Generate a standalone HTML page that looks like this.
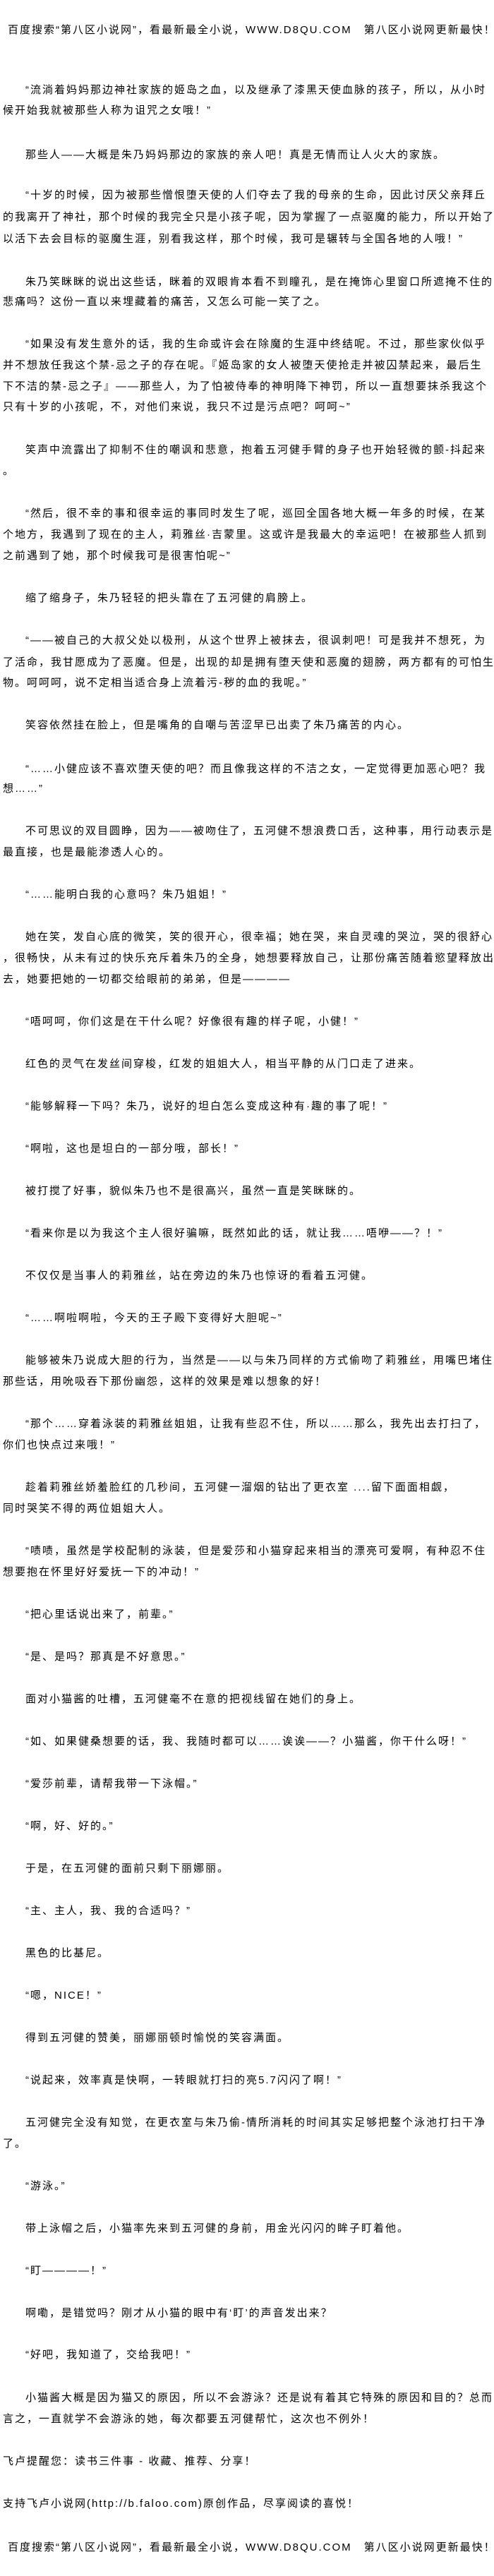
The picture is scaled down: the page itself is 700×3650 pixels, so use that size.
<!DOCTYPE html>
<html><head><meta charset="utf-8">
<style>
html,body{margin:0;padding:0;background:#fff;}
body{width:700px;height:3650px;position:relative;overflow:hidden;
font-family:"Liberation Sans","Noto Sans CJK SC","WenQuanYi Zen Hei",sans-serif;font-size:15px;letter-spacing:2px;color:#000;}
.l{position:absolute;white-space:nowrap;line-height:20px;height:20px;}
.i{left:36px}.c{left:4px}.h{left:11px}
</style></head><body>
<div class="l h" style="top:33px">百度搜索“第八区小说网”，看最新最全小说，WWW.D8QU.COM　第八区小说网更新最快！</div>
<div class="l i" style="top:118px">“流淌着妈妈那边神社家族的姬岛之血，以及继承了漆黑天使血脉的孩子，所以，从小时</div>
<div class="l c" style="top:147px">候开始我就被那些人称为诅咒之女哦！”</div>
<div class="l i" style="top:210px">那些人——大概是朱乃妈妈那边的家族的亲人吧！真是无情而让人火大的家族。</div>
<div class="l i" style="top:267px">“十岁的时候，因为被那些憎恨堕天使的人们夺去了我的母亲的生命，因此讨厌父亲拜丘</div>
<div class="l c" style="top:298px">的我离开了神社，那个时候的我完全只是小孩子呢，因为掌握了一点驱魔的能力，所以开始了</div>
<div class="l c" style="top:329px">以活下去会目标的驱魔生涯，别看我这样，那个时候，我可是辗转与全国各地的人哦！”</div>
<div class="l i" style="top:390px">朱乃笑眯眯的说出这些话，眯着的双眼肯本看不到瞳孔，是在掩饰心里窗口所遮掩不住的</div>
<div class="l c" style="top:418px">悲痛吗？这份一直以来埋藏着的痛苦，又怎么可能一笑了之。</div>
<div class="l i" style="top:478px">“如果没有发生意外的话，我的生命或许会在除魔的生涯中终结呢。不过，那些家伙似乎</div>
<div class="l c" style="top:508px">并不想放任我这个禁-忌之子的存在呢。『姬岛家的女人被堕天使抢走并被囚禁起来，最后生</div>
<div class="l c" style="top:538px">下不洁的禁-忌之子』——那些人，为了怕被侍奉的神明降下神罚，所以一直想要抹杀我这个</div>
<div class="l c" style="top:567px">只有十岁的小孩呢，不，对他们来说，我只不过是污点吧？呵呵~”</div>
<div class="l i" style="top:628px">笑声中流露出了抑制不住的嘲讽和悲意，抱着五河健手臂的身子也开始轻微的颤-抖起来</div>
<div class="l c" style="top:658px">。</div>
<div class="l i" style="top:718px">“然后，很不幸的事和很幸运的事同时发生了呢，巡回全国各地大概一年多的时候，在某</div>
<div class="l c" style="top:748px">个地方，我遇到了现在的主人，莉雅丝·吉蒙里。这或许是我最大的幸运吧！在被那些人抓到</div>
<div class="l c" style="top:778px">之前遇到了她，那个时候我可是很害怕呢~”</div>
<div class="l i" style="top:838px">缩了缩身子，朱乃轻轻的把头靠在了五河健的肩膀上。</div>
<div class="l i" style="top:898px">“——被自己的大叔父处以极刑，从这个世界上被抹去，很讽刺吧！可是我并不想死，为</div>
<div class="l c" style="top:929px">了活命，我甘愿成为了恶魔。但是，出现的却是拥有堕天使和恶魔的翅膀，两方都有的可怕生</div>
<div class="l c" style="top:958px">物。呵呵呵，说不定相当适合身上流着污-秽的血的我呢。”</div>
<div class="l i" style="top:1018px">笑容依然挂在脸上，但是嘴角的自嘲与苦涩早已出卖了朱乃痛苦的内心。</div>
<div class="l i" style="top:1080px">“……小健应该不喜欢堕天使的吧？而且像我这样的不洁之女，一定觉得更加恶心吧？我</div>
<div class="l c" style="top:1108px">想……”</div>
<div class="l i" style="top:1168px">不可思议的双目圆睁，因为——被吻住了，五河健不想浪费口舌，这种事，用行动表示是</div>
<div class="l c" style="top:1198px">最直接，也是最能渗透人心的。</div>
<div class="l i" style="top:1258px">“……能明白我的心意吗？朱乃姐姐！”</div>
<div class="l i" style="top:1318px">她在笑，发自心底的微笑，笑的很开心，很幸福；她在哭，来自灵魂的哭泣，哭的很舒心</div>
<div class="l c" style="top:1348px">，很畅快，从未有过的快乐充斥着朱乃的全身，她想要释放自己，让那份痛苦随着慾望释放出</div>
<div class="l c" style="top:1378px">去，她要把她的一切都交给眼前的弟弟，但是————</div>
<div class="l i" style="top:1438px">“唔呵呵，你们这是在干什么呢？好像很有趣的样子呢，小健！”</div>
<div class="l i" style="top:1498px">红色的灵气在发丝间穿梭，红发的姐姐大人，相当平静的从门口走了进来。</div>
<div class="l i" style="top:1558px">“能够解释一下吗？朱乃，说好的坦白怎么变成这种有·趣的事了呢！”</div>
<div class="l i" style="top:1618px">“啊啦，这也是坦白的一部分哦，部长！”</div>
<div class="l i" style="top:1678px">被打搅了好事，貌似朱乃也不是很高兴，虽然一直是笑眯眯的。</div>
<div class="l i" style="top:1738px">“看来你是以为我这个主人很好骗嘛，既然如此的话，就让我……唔咿——？！”</div>
<div class="l i" style="top:1798px">不仅仅是当事人的莉雅丝，站在旁边的朱乃也惊讶的看着五河健。</div>
<div class="l i" style="top:1858px">“……啊啦啊啦，今天的王子殿下变得好大胆呢~”</div>
<div class="l i" style="top:1918px">能够被朱乃说成大胆的行为，当然是——以与朱乃同样的方式偷吻了莉雅丝，用嘴巴堵住</div>
<div class="l c" style="top:1948px">那些话，用吮吸吞下那份幽怨，这样的效果是难以想象的好！</div>
<div class="l i" style="top:2008px">“那个……穿着泳装的莉雅丝姐姐，让我有些忍不住，所以……那么，我先出去打扫了，</div>
<div class="l c" style="top:2038px">你们也快点过来哦！”</div>
<div class="l i" style="top:2098px">趁着莉雅丝娇羞脸红的几秒间，五河健一溜烟的钻出了更衣室 ....留下面面相觑，</div>
<div class="l c" style="top:2128px">同时哭笑不得的两位姐姐大人。</div>
<div class="l i" style="top:2188px">“啧啧，虽然是学校配制的泳装，但是爱莎和小猫穿起来相当的漂亮可爱啊，有种忍不住</div>
<div class="l c" style="top:2218px">想要抱在怀里好好爱抚一下的冲动！”</div>
<div class="l i" style="top:2278px">“把心里话说出来了，前辈。”</div>
<div class="l i" style="top:2338px">“是、是吗？那真是不好意思。”</div>
<div class="l i" style="top:2398px">面对小猫酱的吐槽，五河健毫不在意的把视线留在她们的身上。</div>
<div class="l i" style="top:2458px">“如、如果健桑想要的话，我、我随时都可以……诶诶——？小猫酱，你干什么呀！”</div>
<div class="l i" style="top:2518px">“爱莎前辈，请帮我带一下泳帽。”</div>
<div class="l i" style="top:2578px">“啊，好、好的。”</div>
<div class="l i" style="top:2638px">于是，在五河健的面前只剩下丽娜丽。</div>
<div class="l i" style="top:2698px">“主、主人，我、我的合适吗？”</div>
<div class="l i" style="top:2758px">黑色的比基尼。</div>
<div class="l i" style="top:2818px">“嗯，NICE！”</div>
<div class="l i" style="top:2878px">得到五河健的赞美，丽娜丽顿时愉悦的笑容满面。</div>
<div class="l i" style="top:2938px">“说起来，效率真是快啊，一转眼就打扫的亮5.7闪闪了啊！”</div>
<div class="l i" style="top:2998px">五河健完全没有知觉，在更衣室与朱乃偷-情所消耗的时间其实足够把整个泳池打扫干净</div>
<div class="l c" style="top:3028px">了。</div>
<div class="l i" style="top:3088px">“游泳。”</div>
<div class="l i" style="top:3148px">带上泳帽之后，小猫率先来到五河健的身前，用金光闪闪的眸子盯着他。</div>
<div class="l i" style="top:3208px">“盯————！”</div>
<div class="l i" style="top:3268px">啊嘞，是错觉吗？刚才从小猫的眼中有‘盯’的声音发出来？</div>
<div class="l i" style="top:3327px">“好吧，我知道了，交给我吧！”</div>
<div class="l i" style="top:3388px">小猫酱大概是因为猫又的原因，所以不会游泳？还是说有着其它特殊的原因和目的？总而</div>
<div class="l c" style="top:3418px">言之，一直就学不会游泳的她，每次都要五河健帮忙，这次也不例外！</div>
<div class="l c" style="top:3478px">飞卢提醒您：读书三件事 - 收藏、推荐、分享！</div>
<div class="l c" style="top:3538px">支持飞卢小说网(http://b.faloo.com)原创作品，尽享阅读的喜悦！</div>
<div class="l h" style="top:3600px">百度搜索“第八区小说网”，看最新最全小说，WWW.D8QU.COM　第八区小说网更新最快！</div>
</body></html>
